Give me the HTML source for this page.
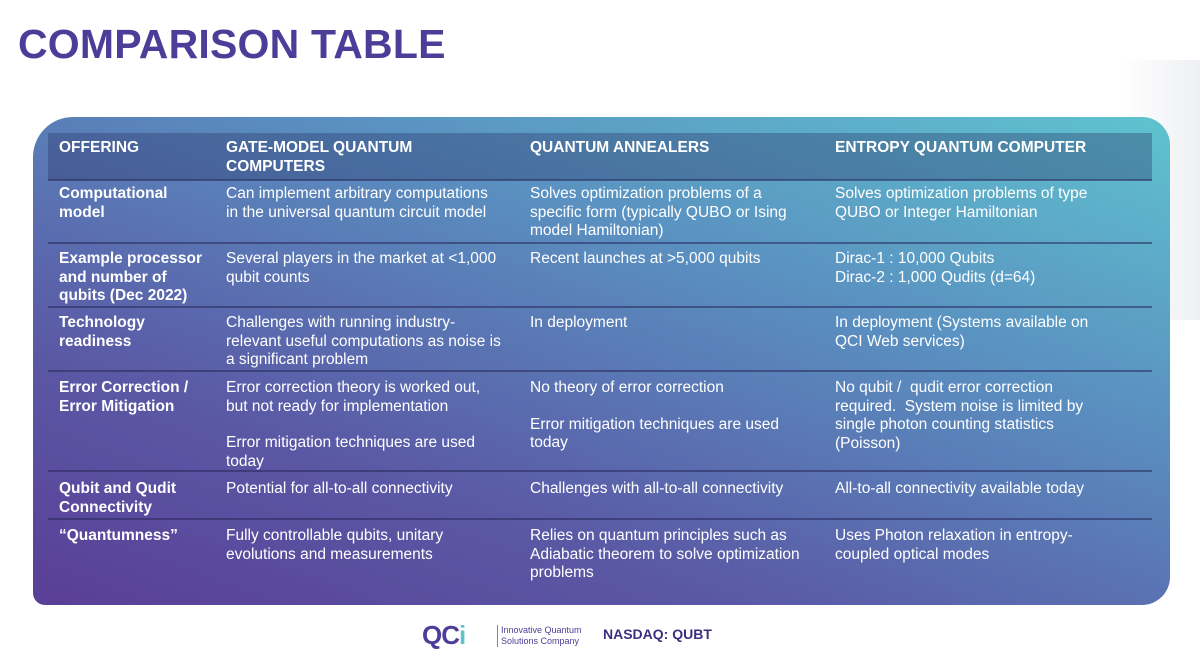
<!DOCTYPE html>
<html><head><meta charset="utf-8"><style>
body{margin:0;width:1200px;height:660px;overflow:hidden;background:#fff;font-family:"Liberation Sans",sans-serif;position:relative}
.title{position:absolute;left:18px;top:21px;font-size:41px;font-weight:bold;color:#4e3d98;letter-spacing:0.2px}
.panel{position:absolute;left:33px;top:117px;width:1137px;height:488px;border-radius:40px 28px 28px 12px;background:linear-gradient(200deg,#5fc3cf 0%,#5a8fc0 35%,#5a5aa6 70%,#5a3e96 100%)}
.hdr{position:absolute;left:48px;top:133px;width:1104px;height:47px;background:rgba(40,50,100,0.35)}
.line{position:absolute;left:48px;width:1104px;height:2px;background:rgba(40,40,90,0.55)}
.c{position:absolute;color:#fff;font-size:15.5px;line-height:18.5px;white-space:nowrap}
.b{font-weight:bold}
.bg1{position:absolute;right:0;top:60px;width:80px;height:260px;background:linear-gradient(90deg,#fff,#eef0f3)}
</style></head><body>
<div class="bg1"></div>
<div class="title">COMPARISON TABLE</div>
<div class="panel"></div>
<div class="hdr"></div>
<div class="line" style="top:179px"></div>
<div class="line" style="top:242px"></div>
<div class="line" style="top:306px"></div>
<div class="line" style="top:370px"></div>
<div class="line" style="top:470px"></div>
<div class="line" style="top:518px"></div>

<div class="c b" style="left:59px;top:139px">OFFERING</div>
<div class="c b" style="left:226px;top:139px">GATE-MODEL QUANTUM<br>COMPUTERS</div>
<div class="c b" style="left:530px;top:139px">QUANTUM ANNEALERS</div>
<div class="c b" style="left:835px;top:139px">ENTROPY QUANTUM COMPUTER</div>

<div class="c b" style="left:59px;top:185px">Computational<br>model</div>
<div class="c" style="left:226px;top:185px">Can implement arbitrary computations<br>in the universal quantum circuit model</div>
<div class="c" style="left:530px;top:185px">Solves optimization problems of a<br>specific form (typically QUBO or Ising<br>model Hamiltonian)</div>
<div class="c" style="left:835px;top:185px">Solves optimization problems of type<br>QUBO or Integer Hamiltonian</div>

<div class="c b" style="left:59px;top:250px">Example processor<br>and number of<br>qubits (Dec 2022)</div>
<div class="c" style="left:226px;top:250px">Several players in the market at &lt;1,000<br>qubit counts</div>
<div class="c" style="left:530px;top:250px">Recent launches at &gt;5,000 qubits</div>
<div class="c" style="left:835px;top:250px">Dirac-1 : 10,000 Qubits<br>Dirac-2 : 1,000 Qudits (d=64)</div>

<div class="c b" style="left:59px;top:314px">Technology<br>readiness</div>
<div class="c" style="left:226px;top:314px">Challenges with running industry-<br>relevant useful computations as noise is<br>a significant problem</div>
<div class="c" style="left:530px;top:314px">In deployment</div>
<div class="c" style="left:835px;top:314px">In deployment (Systems available on<br>QCI Web services)</div>

<div class="c b" style="left:59px;top:379px">Error Correction /<br>Error Mitigation</div>
<div class="c" style="left:226px;top:379px">Error correction theory is worked out,<br>but not ready for implementation<br><span style="display:block;height:18px"></span>Error mitigation techniques are used<br>today</div>
<div class="c" style="left:530px;top:379px">No theory of error correction<br><span style="display:block;height:18px"></span>Error mitigation techniques are used<br>today</div>
<div class="c" style="left:835px;top:379px">No qubit /&nbsp; qudit error correction<br>required.&nbsp; System noise is limited by<br>single photon counting statistics<br>(Poisson)</div>

<div class="c b" style="left:59px;top:480px">Qubit and Qudit<br>Connectivity</div>
<div class="c" style="left:226px;top:480px">Potential for all-to-all connectivity</div>
<div class="c" style="left:530px;top:480px">Challenges with all-to-all connectivity</div>
<div class="c" style="left:835px;top:480px">All-to-all connectivity available today</div>

<div class="c b" style="left:59px;top:527px">“Quantumness”</div>
<div class="c" style="left:226px;top:527px">Fully controllable qubits, unitary<br>evolutions and measurements</div>
<div class="c" style="left:530px;top:527px">Relies on quantum principles such as<br>Adiabatic theorem to solve optimization<br>problems</div>
<div class="c" style="left:835px;top:527px">Uses Photon relaxation in entropy-<br>coupled optical modes</div>

<div style="position:absolute;left:422px;top:620px;font-size:26px;font-weight:bold;color:#4e3d98;letter-spacing:-1px">QC<span style="color:#5ec3cf">i</span></div>
<div style="position:absolute;left:497px;top:625px;font-size:9px;line-height:11px;color:#4e3d98;border-left:1px solid #888;padding-left:3px">Innovative Quantum<br>Solutions Company</div>
<div style="position:absolute;left:603px;top:626px;font-size:14px;font-weight:bold;color:#3d2f80">NASDAQ: QUBT</div>
</body></html>
